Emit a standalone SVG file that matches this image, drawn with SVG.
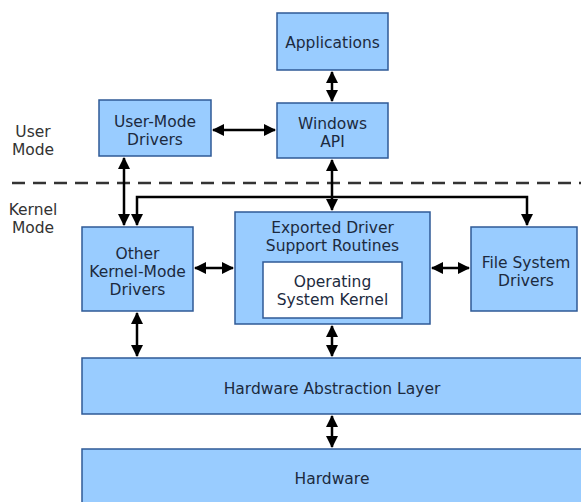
<svg xmlns="http://www.w3.org/2000/svg" width="581" height="502" viewBox="0 0 581 502">
<defs>
<style>
.box{fill:#99ccff;stroke:#2f5a96;stroke-width:1.5}
.inner{fill:#ffffff;stroke:#2f5a96;stroke-width:1.5}
text{font-family:"DejaVu Sans",Verdana,sans-serif;font-size:15.5px;fill:#1c2a3e;text-anchor:middle}
.lbl{fill:#333333}
.c{stroke:#000;stroke-width:2.5;fill:none}
</style>
<marker id="ah" markerUnits="userSpaceOnUse" markerWidth="12" markerHeight="12" refX="11" refY="6" orient="auto-start-reverse">
<path d="M0,0 L12,6 L0,12 z" fill="#000"/>
</marker>
</defs>
<rect width="581" height="502" fill="#ffffff"/>
<g id="mode-labels">
<text class="lbl" x="33" y="137">User</text>
<text class="lbl" x="33" y="155">Mode</text>
<text class="lbl" x="33" y="215">Kernel</text>
<text class="lbl" x="33" y="233">Mode</text>
<line x1="12" y1="183" x2="581" y2="183" stroke="#333" stroke-width="2.5" stroke-dasharray="13 8"/>
</g>
<g id="applications">
<rect class="box" x="277" y="13" width="111" height="57"/>
<text x="332.5" y="48">Applications</text>
</g>
<g id="windows-api">
<rect class="box" x="277" y="103" width="111" height="55"/>
<text x="332.5" y="129">Windows</text>
<text x="332.5" y="147">API</text>
</g>
<g id="user-mode-drivers">
<rect class="box" x="99" y="100" width="112" height="56"/>
<text x="155" y="127">User-Mode</text>
<text x="155" y="145">Drivers</text>
</g>
<g id="other-kernel-mode-drivers">
<rect class="box" x="82" y="227" width="111" height="84"/>
<text x="137.5" y="259">Other</text>
<text x="137.5" y="277">Kernel-Mode</text>
<text x="137.5" y="295">Drivers</text>
</g>
<g id="exported-driver-support">
<rect class="box" x="235" y="212" width="195" height="112"/>
<text x="332.5" y="233">Exported Driver</text>
<text x="332.5" y="251">Support Routines</text>
</g>
<g id="os-kernel">
<rect class="inner" x="263" y="262" width="139" height="56"/>
<text x="332.5" y="287">Operating</text>
<text x="332.5" y="305">System Kernel</text>
</g>
<g id="file-system-drivers">
<rect class="box" x="471" y="227" width="106" height="84"/>
<text x="526" y="268">File System</text>
<text x="526" y="286">Drivers</text>
</g>
<g id="hal">
<rect class="box" x="82" y="358" width="502" height="56"/>
<text x="332" y="394">Hardware Abstraction Layer</text>
</g>
<g id="hardware">
<rect class="box" x="82" y="449" width="502" height="60"/>
<text x="332" y="484">Hardware</text>
</g>
<g id="connectors">
<line class="c" x1="332" y1="72" x2="332" y2="101" marker-start="url(#ah)" marker-end="url(#ah)"/>
<line class="c" x1="213" y1="130" x2="275" y2="130" marker-start="url(#ah)" marker-end="url(#ah)"/>
<line class="c" x1="124" y1="158" x2="124" y2="225" marker-start="url(#ah)" marker-end="url(#ah)"/>
<line class="c" x1="332" y1="160" x2="332" y2="210" marker-start="url(#ah)" marker-end="url(#ah)"/>
<polyline class="c" points="332,197 137,197 137,225" marker-end="url(#ah)"/>
<polyline class="c" points="332,197 527,197 527,225" marker-end="url(#ah)"/>
<line class="c" x1="195" y1="268" x2="233" y2="268" marker-start="url(#ah)" marker-end="url(#ah)"/>
<line class="c" x1="432" y1="268" x2="469" y2="268" marker-start="url(#ah)" marker-end="url(#ah)"/>
<line class="c" x1="137" y1="313" x2="137" y2="356" marker-start="url(#ah)" marker-end="url(#ah)"/>
<line class="c" x1="332" y1="326" x2="332" y2="356" marker-start="url(#ah)" marker-end="url(#ah)"/>
<line class="c" x1="332" y1="416" x2="332" y2="447" marker-start="url(#ah)" marker-end="url(#ah)"/>
</g>
</svg>
